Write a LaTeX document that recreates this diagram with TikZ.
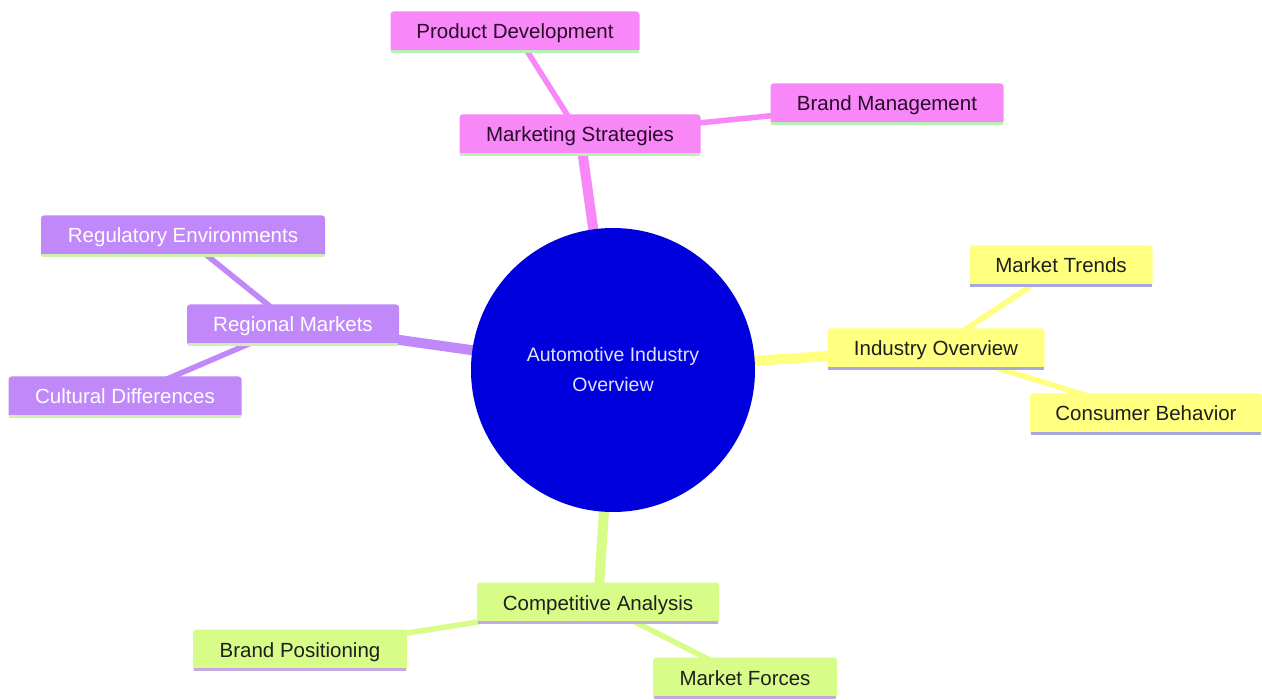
\documentclass[tikz,border=0pt]{standalone}
\usepackage{fontspec}
\setmainfont{Liberation Sans}
\usetikzlibrary{backgrounds,calc}
\definecolor{cpink}{HTML}{F888F8}
\definecolor{cviol}{HTML}{C088F8}
\definecolor{cyell}{HTML}{FFFF80}
\definecolor{cgreen}{HTML}{D8FC88}
\definecolor{lpink}{HTML}{B8F0B8}
\definecolor{lviol}{HTML}{CCF0B0}
\definecolor{lyell}{HTML}{A8A8E0}
\definecolor{lgreen}{HTML}{C4AAE0}
\definecolor{croot}{HTML}{0000DD}
\definecolor{tpink}{HTML}{2A0A2A}
\tikzset{
  mm/.style 2 args={fill=#1, rounded corners=3pt, minimum height=41pt, inner xsep=0pt,
    text height=18pt, text depth=4pt,
    font=\fontsize{20.5}{24}\selectfont,
    append after command={(\tikzlastnode.south west) ++(1pt,1.5pt) edge[draw=#2, line width=3pt] ($(\tikzlastnode.south east)+(-1pt,1.5pt)$)}},
  pinkbox/.style={mm={cpink}{lpink}, text=tpink},
  violbox/.style={mm={cviol}{lviol}, text=white},
  yellbox/.style={mm={cyell}{lyell}, text=black!88},
  greenbox/.style={mm={cgreen}{lgreen}, text=black!88},
  rootlink/.style={line width=10pt},
  leaflink/.style={line width=5.5pt},
}
\begin{document}
\begin{tikzpicture}[x=1pt,y=-1pt]
\useasboundingbox (0,0) rectangle (1262,700);
% root
\node[circle, fill=croot, minimum size=284pt, inner sep=0pt, text=white!88!blue,
  font=\fontsize{19.5}{30}\selectfont, align=center] (root) at (613,370)
  {Automotive Industry\\Overview};
% pink
\node[pinkbox, minimum width=241pt] (mkt) at (580,135) {Marketing Strategies};
\node[pinkbox, minimum width=249pt] (pd) at (515,32) {Product Development};
\node[pinkbox, minimum width=233pt] (bm) at (887,104) {Brand Management};
% violet
\node[violbox, minimum width=212pt] (reg) at (293,325) {Regional Markets};
\node[violbox, minimum width=284pt] (re) at (183,236) {Regulatory Environments};
\node[violbox, minimum width=233pt] (cd) at (125,397) {Cultural Differences};
% yellow
\node[yellbox, minimum width=217pt] (io) at (936,349) {Industry Overview};
\node[yellbox, minimum width=183pt] (mt) at (1061,266) {Market Trends};
\node[yellbox, minimum width=232pt] (cb) at (1146,414) {Consumer Behavior};
% green
\node[greenbox, minimum width=242pt] (ca) at (598,603) {Competitive Analysis};
\node[greenbox, minimum width=214pt] (bp) at (300,650) {Brand Positioning};
\node[greenbox, minimum width=184pt] (mf) at (745,678) {Market Forces};
\begin{pgfonlayer}{background}
\fill[white] (0,0) rectangle (1262,700);
\draw[rootlink, cpink] (root.center) -- (mkt.center);
\draw[leaflink, cpink] (mkt.center) -- (pd.center);
\draw[leaflink, cpink] (mkt.center) -- (bm.center);
\draw[rootlink, cviol] (root.center) -- (reg.center);
\draw[leaflink, cviol] (reg.center) -- (re.center);
\draw[leaflink, cviol] (reg.center) -- (cd.center);
\draw[rootlink, cyell] (root.center) -- (io.center);
\draw[leaflink, cyell] (io.center) -- (mt.center);
\draw[leaflink, cyell] (io.center) -- (cb.center);
\draw[rootlink, cgreen] (root.center) -- (ca.center);
\draw[leaflink, cgreen] (ca.center) -- (bp.center);
\draw[leaflink, cgreen] (ca.center) -- (mf.center);
\end{pgfonlayer}
\end{tikzpicture}
\end{document}
